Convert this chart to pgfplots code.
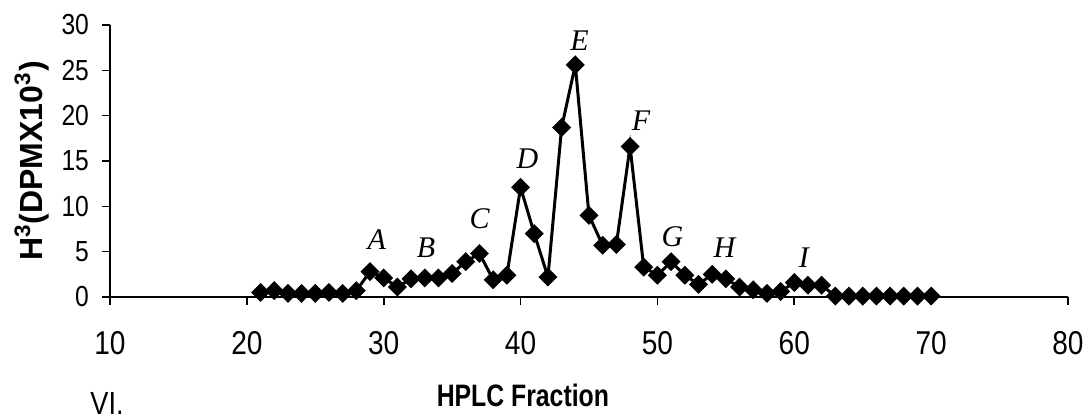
\documentclass[border=0pt]{standalone}
\usepackage{fontspec}
\setmainfont{Liberation Sans}
\newfontfamily\tickfont[FakeStretch=0.85]{Liberation Sans}
\newfontfamily\narrowfont[FakeStretch=0.8]{Liberation Sans}
\newfontfamily\peakfont{Liberation Serif}
\usepackage{pgfplots}
\pgfplotsset{compat=1.18}

\pgfplotstableread{
frac dpm
21 0.5
22 0.7
23 0.4
24 0.4
25 0.4
26 0.5
27 0.4
28 0.7
29 2.8
30 2.1
31 1.1
32 2.0
33 2.1
34 2.1
35 2.6
36 3.9
37 4.8
38 1.9
39 2.4
40 12.1
41 7.0
42 2.2
43 18.7
44 25.6
45 9.0
46 5.7
47 5.8
48 16.6
49 3.3
50 2.4
51 3.9
52 2.4
53 1.4
54 2.5
55 2.0
56 1.1
57 0.8
58 0.4
59 0.6
60 1.6
61 1.3
62 1.3
63 0.1
64 0.1
65 0.1
66 0.1
67 0.1
68 0.1
69 0.1
70 0.1
}\hplc

\begin{document}
\begin{tikzpicture}
\path[use as bounding box] (-55pt,-61pt) rectangle (489pt,148.5pt);
\begin{axis}[
  scale only axis, width=479pt, height=136pt,
  xmin=10, xmax=80, ymin=0, ymax=30,
  xtick={10,20,...,80}, ytick={0,5,...,30},
  axis lines*=left,
  axis line style={line width=1pt},
  tick align=outside, major tick length=4pt,
  tick style={line width=0.8pt, black},
  /pgf/number format/assume math mode=true,
  xticklabel style={font=\tickfont\fontsize{16.5}{17}\selectfont, anchor=center, yshift=-19pt},
  yticklabel style={font=\tickfont\fontsize{14.5}{15}\selectfont, anchor=east, xshift=-3pt},
  clip=false,
]
\addplot[black, line width=1.5pt, mark=square*, mark size=2.6pt,
  mark options={rotate=45, solid}] table[x=frac, y=dpm] {\hplc};

\node[rotate=90, font=\bfseries\fontsize{16}{16}\selectfont]
  at ([xshift=-39pt]rel axis cs:0,0.5) {H\textsuperscript{3}(DPMX10\textsuperscript{3})};
\node[font=\narrowfont\bfseries\fontsize{15.5}{16}\selectfont]
  at ([yshift=-49pt]rel axis cs:0.431,0) {HPLC Fraction};
\node[font=\tickfont\fontsize{16}{16}\selectfont]
  at ([yshift=-53pt]rel axis cs:-0.003,0) {VI.};

\begin{scope}[every node/.style={font=\peakfont\itshape\fontsize{15}{15}\selectfont}]
\node at (axis cs:29.5,6.3) {A};
\node at (axis cs:33.1,5.4) {B};
\node at (axis cs:37.0,8.6) {C};
\node at (axis cs:40.5,15.2) {D};
\node at (axis cs:44.3,28.3) {E};
\node at (axis cs:48.8,19.5) {F};
\node at (axis cs:51.1,6.6) {G};
\node at (axis cs:54.9,5.4) {H};
\node at (axis cs:60.7,4.3) {I};
\end{scope}
\end{axis}
\end{tikzpicture}
\end{document}
